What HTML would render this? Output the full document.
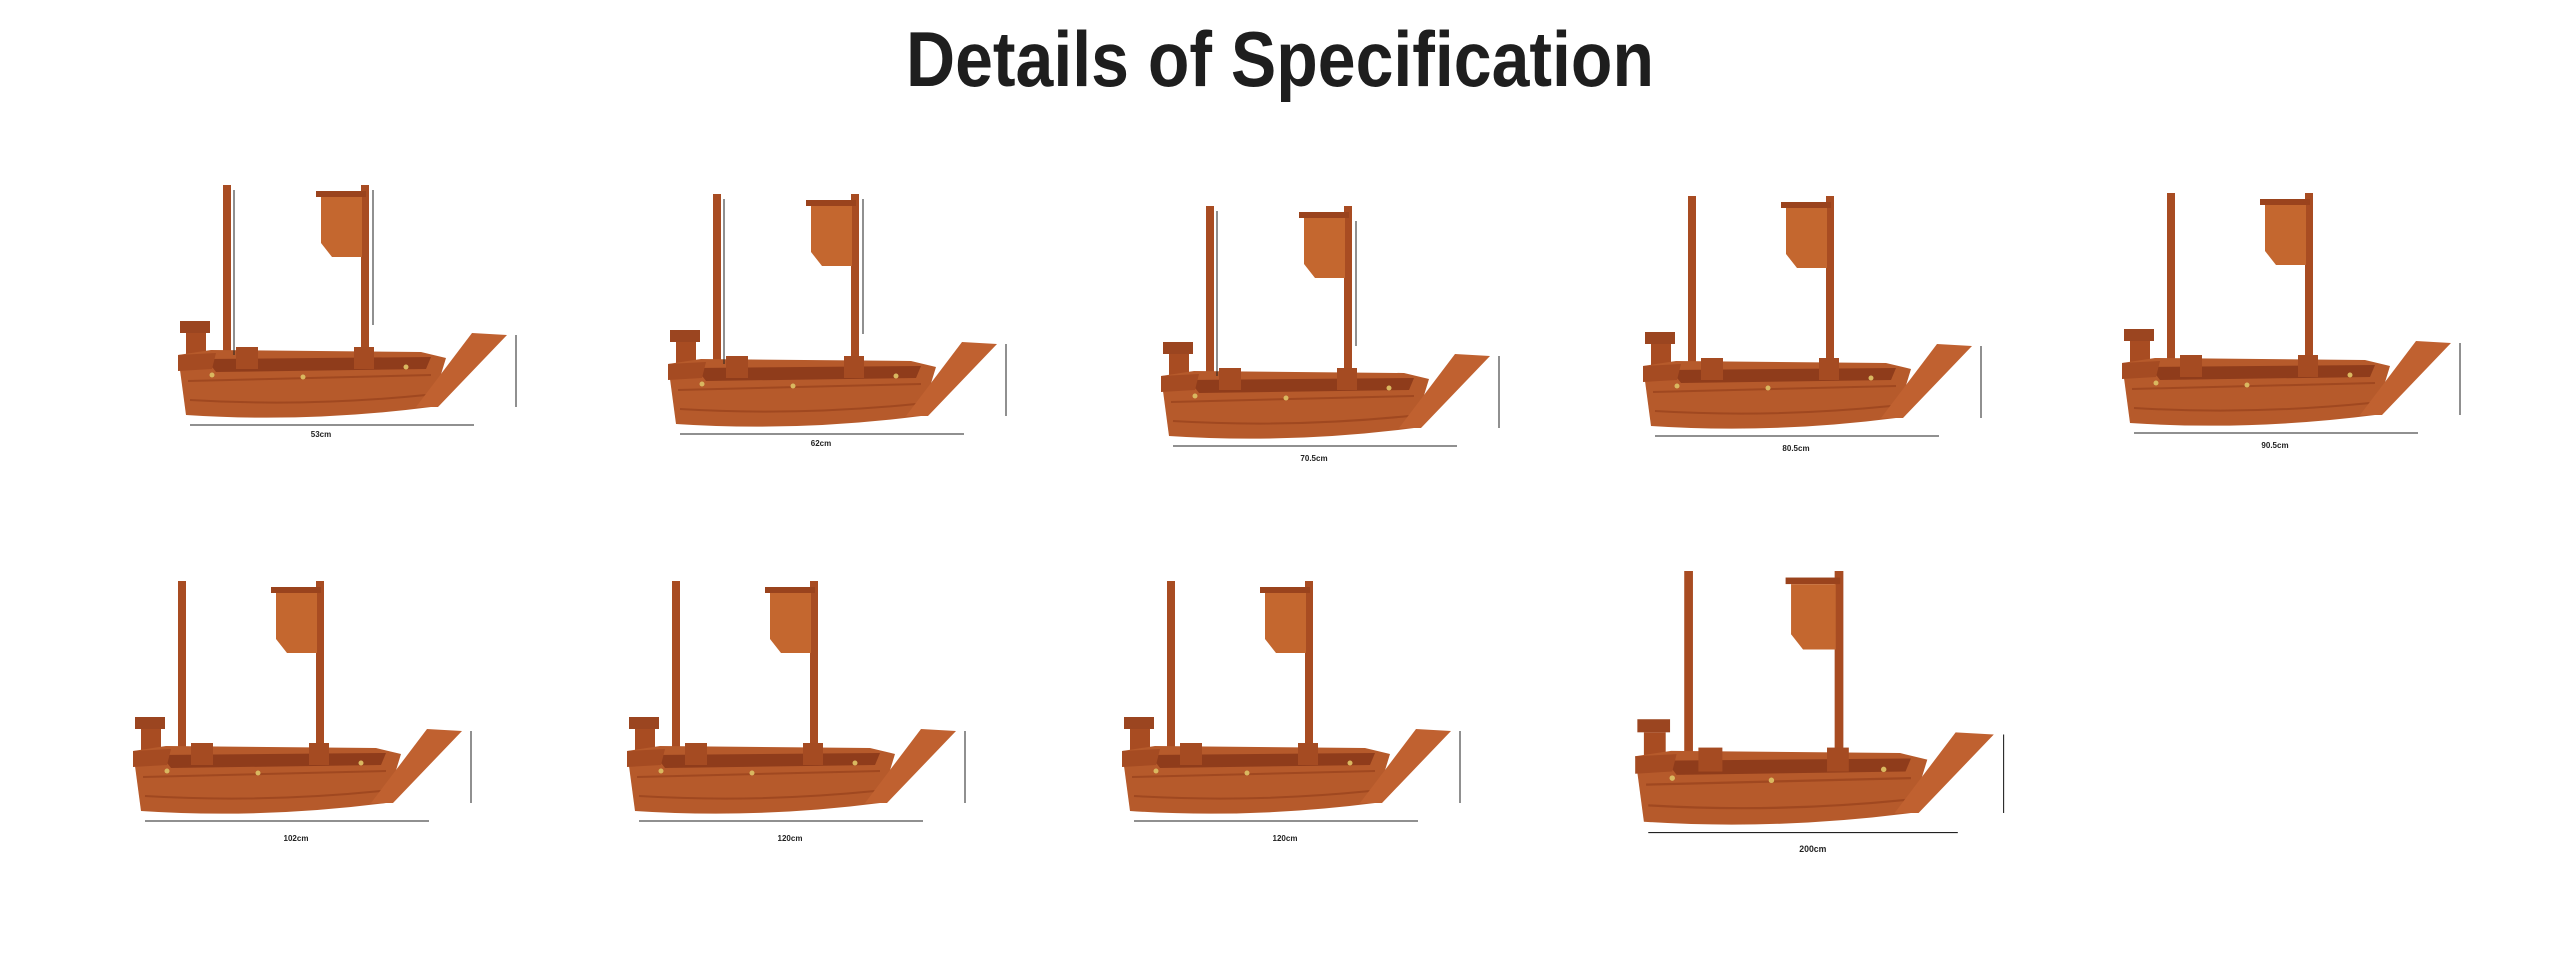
<!DOCTYPE html>
<html><head><meta charset="utf-8"><style>
html,body{margin:0;padding:0;background:#fff;width:2560px;height:972px;overflow:hidden}
</style></head><body>
<svg width="2560" height="972" viewBox="0 0 2560 972" xmlns="http://www.w3.org/2000/svg">
<defs>
<g id="boat">
  <rect x="47" y="0" width="8" height="182" fill="#a84c22"/>
  <rect x="185" y="0" width="8" height="182" fill="#a84c22"/>
  <rect x="140" y="6" width="50" height="6" fill="#9a431d"/>
  <polygon points="145,12 186,12 186,72 156,72 145,58" fill="#c4672f"/>
  <rect x="4" y="136" width="30" height="12" fill="#9b4520"/>
  <rect x="10" y="148" width="20" height="26" fill="#a84c22"/>
  <path d="M2,170 L35,165 L245,167 L270,173 L255,222 Q130,238 10,230 Z" fill="#b65a2b"/>
  <path d="M30,174 L255,172 L250,184 L40,187 Z" fill="#8f3c1b"/>
  <path d="M2,170 L40,168 L36,184 L2,186 Z" fill="#a54b22"/>
  <path d="M12,196 L255,190" stroke="#a04820" stroke-width="2"/>
  <path d="M14,215 Q130,222 250,210" stroke="#a04820" stroke-width="2" fill="none"/>
  <rect x="60" y="162" width="22" height="22" fill="#a54b22"/>
  <rect x="178" y="162" width="20" height="22" fill="#a54b22"/>
  <polygon points="296,148 331,150 262,222 240,222" fill="#c06130"/>
  <circle cx="36" cy="190" r="2.5" fill="#d9b860"/>
  <circle cx="127" cy="192" r="2.5" fill="#d9b860"/>
  <circle cx="230" cy="182" r="2.5" fill="#d9b860"/>
</g>
<g id="dims" stroke="#222" stroke-width="1" fill="none">
  <line x1="14" y1="240" x2="298" y2="240"/>
  <line x1="340" y1="150" x2="340" y2="222"/>
</g>
</defs>

<text x="906" y="86" font-family="Liberation Sans, sans-serif" font-weight="bold" font-size="78" fill="#1e1e1e" textLength="748" lengthAdjust="spacingAndGlyphs">Details of Specification</text>

<g font-family="Liberation Sans, sans-serif" font-weight="bold" font-size="8" fill="#222">
<g transform="translate(176,185)"><use href="#boat"/><use href="#dims"/>
  <line x1="58" y1="5" x2="58" y2="170" stroke="#222"/><line x1="197" y1="5" x2="197" y2="140" stroke="#222"/>
  <text x="145" y="252" text-anchor="middle">53cm</text></g>
<g transform="translate(666,194)"><use href="#boat"/><use href="#dims"/>
  <line x1="58" y1="5" x2="58" y2="170" stroke="#222"/><line x1="197" y1="5" x2="197" y2="140" stroke="#222"/>
  <text x="155" y="252" text-anchor="middle">62cm</text></g>
<g transform="translate(1159,206)"><use href="#boat"/><use href="#dims"/>
  <line x1="58" y1="5" x2="58" y2="170" stroke="#222"/><line x1="197" y1="15" x2="197" y2="140" stroke="#222"/>
  <text x="155" y="255" text-anchor="middle">70.5cm</text></g>
<g transform="translate(1641,196)"><use href="#boat"/><use href="#dims"/>
  <text x="155" y="255" text-anchor="middle">80.5cm</text></g>
<g transform="translate(2120,193)"><use href="#boat"/><use href="#dims"/>
  <text x="155" y="255" text-anchor="middle">90.5cm</text></g>
<g transform="translate(131,581)"><use href="#boat"/><use href="#dims"/>
  <text x="165" y="260" text-anchor="middle">102cm</text></g>
<g transform="translate(625,581)"><use href="#boat"/><use href="#dims"/>
  <text x="165" y="260" text-anchor="middle">120cm</text></g>
<g transform="translate(1120,581)"><use href="#boat"/><use href="#dims"/>
  <text x="165" y="260" text-anchor="middle">120cm</text></g>
<g transform="translate(1633,571) scale(1.09)"><use href="#boat"/><use href="#dims"/>
  <text x="165" y="258" text-anchor="middle">200cm</text></g>
</g>
</svg>
</body></html>
